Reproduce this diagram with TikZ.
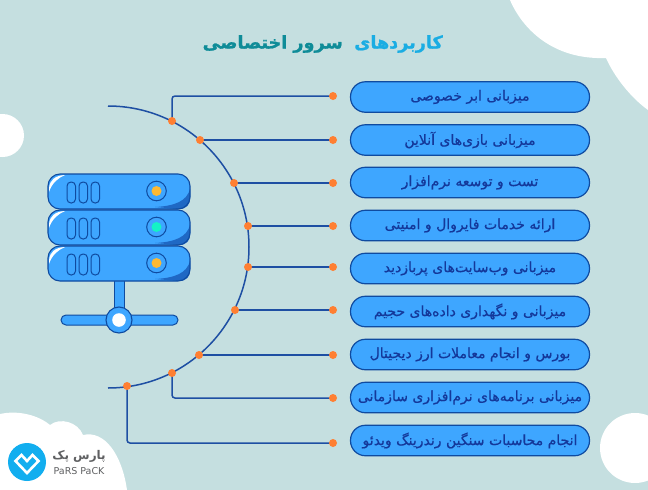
\documentclass[tikz,border=0pt]{standalone}
\usepackage{fontspec}
\setmainfont{DejaVu Sans}
\newfontfamily\arabicfont[Script=Arabic]{DejaVu Sans}
\newfontfamily\titlefont[Script=Arabic,BoldFeatures={RawFeature={embolden=1.2}}]{DejaVu Sans}
\newfontfamily\pillfont[Script=Arabic,RawFeature={embolden=0.6}]{DejaVu Sans}
\TeXXeTstate=1
\definecolor{bg}{HTML}{C5DFE0}
\definecolor{pillfill}{HTML}{3EA6FF}
\definecolor{pilldraw}{HTML}{0F4BA0}
\definecolor{pilltext}{HTML}{14389A}
\definecolor{arcblue}{HTML}{1E4FA3}
\definecolor{dotor}{HTML}{FF7F32}
\definecolor{shadecol}{HTML}{1F68C4}
\definecolor{ledy}{HTML}{FDB933}
\definecolor{ledg}{HTML}{14F2C6}
\definecolor{titlea}{HTML}{1AADE3}
\definecolor{titleb}{HTML}{0F8C98}
\definecolor{logoblue}{HTML}{12AEEF}
\definecolor{logotext}{HTML}{5F6062}
\tikzset{
 pill/.style={draw=pilldraw,line width=1.2pt,fill=pillfill,rounded corners=15pt,minimum width=239pt,minimum height=30.5pt,inner sep=0pt,text=pilltext,font=\pillfont\fontsize{14}{16}\selectfont},
 dot/.style={circle,fill=dotor,minimum size=8pt,inner sep=0pt},
 conn/.style={draw=arcblue,line width=1.5pt,rounded corners=3pt},
 srv/.style={draw=pilldraw,line width=1.1pt},
 slot/.style={draw=pilldraw,line width=1pt,rounded corners=4pt},
 titletext/.style={font=\titlefont\bfseries\fontsize{17.6}{20}\selectfont,inner sep=0pt},
}
\newcommand{\serverunit}[2]{%
 \begin{scope}[yshift=-#1pt]
 \path[fill=pillfill,rounded corners=12pt] (48,0) -- (48,35) -- (190,35) -- (190,0) -- cycle;
 \fill[shadecol] (190,15) .. controls (187,27) and (175,32) .. (155,33) -- (179,35) .. controls (187,35) and (190,30) .. (190,25) -- cycle;
 \fill[white] (49,14) .. controls (50,6) and (55,1.5) .. (65,1) .. controls (58,4) and (52,9) .. (49,18) -- cycle;
 \draw[srv,rounded corners=12pt] (48,0) -- (48,35) -- (190,35) -- (190,0) -- cycle;
 \draw[slot] (67,8) rectangle (75.5,29);
 \draw[slot] (79,8) rectangle (87.5,29);
 \draw[slot] (91,8) rectangle (99.5,29);
 \draw[pilldraw,line width=1pt] (156.5,17) circle (9.8);
 \fill[#2] (156.5,17) circle (5);
 \end{scope}}
\begin{document}
\begin{tikzpicture}[x=1pt,y=-1pt]
\useasboundingbox (0,0) rectangle (648,490);
\fill[bg] (0,0) rectangle (648,490);
% clouds
\begin{scope}
\clip (0,0) rectangle (648,490);
\fill[white] (510,0) .. controls (522,28) and (552,60) .. (606,58) .. controls (614,76) and (630,97) .. (648,110) -- (648,0) -- cycle;
\fill[white] (635,448) circle (35);
\fill[white] (2.5,135.5) circle (21.5);
\fill[white] (0,414) .. controls (18,410) and (38,415) .. (50,425) .. controls (60,417) and (78,422) .. (83,435) .. controls (105,430) and (122,455) .. (127,490) -- (0,490) -- cycle;
\end{scope}
% title
\node[titletext,text=titlea,anchor=east] (title1) at (443,44) {\beginR کاربردهای\endR};
\node[titletext,text=titleb,anchor=east] (title2) at (343,44) {\beginR سرور اختصاصی\endR};
% server
\fill[pillfill] (114,280) rectangle (124,318);
\draw[pilldraw,line width=.5pt] (114,280) -- (114,316) (124,280) -- (124,316);
\draw[pilldraw,line width=1pt,fill=pillfill,rounded corners=5pt] (61,315) rectangle (178,325);
\draw[pilldraw,line width=1.1pt,fill=pillfill] (119,320) circle (13);
\fill[white] (119,320) circle (6.8);
\serverunit{174}{ledy}
\serverunit{210}{ledg}
\serverunit{246}{ledy}
% pills
\node[pill] (p1) at (470,97) {\beginR میزبانی ابر خصوصی\endR};
\node[pill] (p2) at (470,140) {\beginR میزبانی بازی‌های آنلاین\endR};
\node[pill] (p3) at (470,182.5) {\beginR تست و توسعه نرم‌افزار\endR};
\node[pill] (p4) at (470,225.5) {\beginR ارائه خدمات فایروال و امنیتی\endR};
\node[pill] (p5) at (470,268.5) {\beginR میزبانی وب‌سایت‌های پربازدید\endR};
\node[pill] (p6) at (470,311.5) {\beginR میزبانی و نگهداری داده‌های حجیم\endR};
\node[pill] (p7) at (470,354.5) {\beginR بورس و انجام معاملات ارز دیجیتال\endR};
\node[pill] (p8) at (470,397.5) {\beginR میزبانی برنامه‌های نرم‌افزاری سازمانی\endR};
\node[pill] (p9) at (470,440.5) {\beginR انجام محاسبات سنگین رندرینگ ویدئو\endR};
% arc
\draw[arcblue,line width=1.5pt] (108,106) arc[start angle=-90,end angle=90,radius=141];
% connector end dots
\coordinate (a1) at (172,121);
\coordinate (a2) at (200,140);
\coordinate (a3) at (234,183);
\coordinate (a4) at (248,226);
\coordinate (a5) at (248,267);
\coordinate (a6) at (235,310);
\coordinate (a7) at (199,355);
\coordinate (a8) at (172,373);
\coordinate (a9) at (127,386);
\coordinate (b1) at (333,96);
\coordinate (b2) at (333,140);
\coordinate (b3) at (333,183);
\coordinate (b4) at (333,226);
\coordinate (b5) at (333,267);
\coordinate (b6) at (333,310);
\coordinate (b7) at (333,355);
\coordinate (b8) at (333,398);
\coordinate (b9) at (333,443);
\draw[conn] (a1) |- (b1);
\draw[conn] (a2) -- (b2);
\draw[conn] (a3) -- (b3);
\draw[conn] (a4) -- (b4);
\draw[conn] (a5) -- (b5);
\draw[conn] (a6) -- (b6);
\draw[conn] (a7) -- (b7);
\draw[conn] (a8) |- (b8);
\draw[conn] (a9) |- (b9);
\foreach \i in {1,...,9}{
 \node[dot] (da\i) at (a\i) {};
 \node[dot] (db\i) at (b\i) {};
}
% logo
\fill[logoblue] (27,462) circle (19);
\draw[white,line width=2.6pt,line join=miter] (27,473) -- (15.5,461) -- (21.5,455) -- (27,461) -- (32.5,455) -- (38.5,461) -- cycle;
\node[text=logotext,font=\arabicfont\bfseries\fontsize{12}{14}\selectfont,inner sep=0pt] (lfa) at (79,456) {\beginR پارس پک\endR};
\node[text=logotext,font=\fontsize{9.5}{11}\selectfont,inner sep=0pt] (lla) at (79,471) {PaRS PaCK};
\end{tikzpicture}
\end{document}
